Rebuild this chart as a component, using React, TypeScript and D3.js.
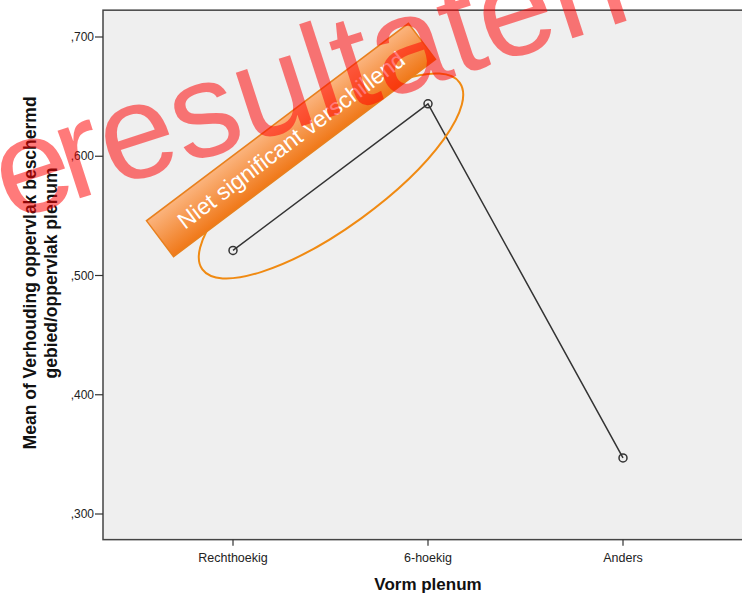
import React from "react";
import * as d3 from "d3";

const categories = ["Rechthoekig", "6-hoekig", "Anders"];
const means = [0.521, 0.644, 0.347];
const yTicks = [0.3, 0.4, 0.5, 0.6, 0.7];
const yExtent = [0.2785, 0.7225];
const yTitleLines = ["Mean of Verhouding oppervlak beschermd", "gebied/oppervlak plenum"];
const xTitle = "Vorm plenum";
const noteText = "Niet significant verschillend";
const watermarkHead = "e";
const watermarkTail = " resultaten";

const W = 742;
const H = 595;

export default function App() {
  const x = d3.scalePoint<string>().domain(categories).range([103, 753]).padding(2 / 3);
  const y = d3.scaleLinear().domain([0.3, 0.7]).range([514, 37]);
  const top = y(yExtent[1]);
  const bottom = y(yExtent[0]);
  const left = 103;
  const right = 753;
  const fmt = (v: number) => d3.format(".3f")(v).replace("0.", ",");
  const line = d3
    .line<number>()
    .x((_, i) => x(categories[i]) as number)
    .y((d) => y(d));
  const font = "'Liberation Sans', Arial, sans-serif";
  return (
    <svg
      width={W}
      height={H}
      style={{ position: "absolute", left: 0, top: 0, background: "#fff" }}
      fontFamily={font}
    >
      <defs>
        <linearGradient id="boxGrad" x1="0" y1="0" x2="0" y2="1">
          <stop offset="0%" stopColor="#fbb47e" />
          <stop offset="100%" stopColor="#f07818" />
        </linearGradient>
      </defs>
      <rect x={0} y={0} width={W} height={H} fill="#fff" />
      <rect x={left} y={top} width={right - left} height={bottom - top} fill="#efefef" stroke="#444" strokeWidth={1.5} />
      {yTicks.map((t) => (
        <g key={t}>
          <line x1={left - 8} x2={left} y1={y(t)} y2={y(t)} stroke="#333" strokeWidth={1.2} />
          <text x={left - 9} y={y(t)} dy="0.35em" textAnchor="end" fontSize={12} fill="#222">
            {fmt(t)}
          </text>
        </g>
      ))}
      {categories.map((c) => (
        <g key={c}>
          <line x1={x(c)} x2={x(c)} y1={bottom} y2={bottom + 6} stroke="#333" strokeWidth={1.2} />
          <text x={x(c)} y={bottom + 22} textAnchor="middle" fontSize={12.5} fill="#222">
            {c}
          </text>
        </g>
      ))}
      <text x={428} y={590} textAnchor="middle" fontSize={17} fontWeight="bold" fill="#111">
        {xTitle}
      </text>
      {yTitleLines.map((l, i) => (
        <text
          key={i}
          transform={`translate(${36 + i * 21},${(top + bottom) / 2 - 2}) rotate(-90)`}
          textAnchor="middle"
          fontSize={17.5}
          fontWeight="bold"
          fill="#111"
        >
          {l}
        </text>
      ))}
      <path d={line(means) || ""} fill="none" stroke="#333" strokeWidth={1.5} />
      {means.map((m, i) => (
        <circle key={i} cx={x(categories[i])} cy={y(m)} r={4} fill="none" stroke="#333" strokeWidth={1.5} />
      ))}
      <ellipse
        cx={331}
        cy={176}
        rx={159}
        ry={52}
        transform="rotate(-36 331 176)"
        fill="none"
        stroke="#f08a12"
        strokeWidth={2}
      />
      <g transform="translate(291,140) rotate(-37)">
        <rect x={-164} y={-22.5} width={328} height={45} fill="url(#boxGrad)" stroke="#e8801e" strokeWidth={1.5} />
        <text x={0} y={0} dy="0.35em" textAnchor="middle" fontSize={23} fill="#fff">
          {noteText}
        </text>
      </g>
      <text
        transform="translate(9.6,221.2) rotate(-18)"
        fontSize={135}
        fill="rgb(255,0,0)"
        fillOpacity={0.52}
        style={{ whiteSpace: "pre" }}
      >
        <tspan>{watermarkHead}</tspan>
        <tspan dx={-48}>{watermarkTail}</tspan>
      </text>
    </svg>
  );
}
